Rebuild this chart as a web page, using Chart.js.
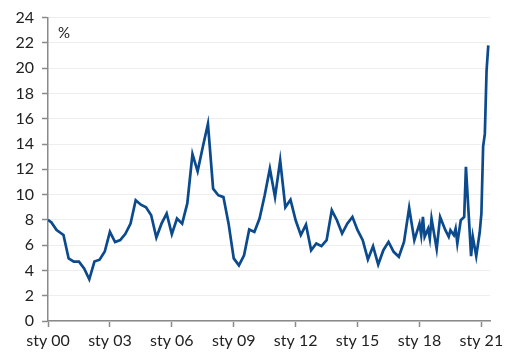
<!DOCTYPE html>
<html>
<head>
<meta charset="utf-8">
<script src="https://cdn.jsdelivr.net/npm/chart.js@4"></script>
<style>
  html, body { margin: 0; padding: 0; background: #fff; }
  #wrap { width: 514px; height: 361px; }
</style>
</head>
<body>
<div id="wrap"><canvas id="chart"></canvas></div>
<script>
// months counted from January 2000
const months = [0, 2, 5, 9, 12, 15, 18, 21, 24, 27, 30, 33, 36, 39, 42, 45, 48, 51, 54, 57,
  60, 63, 66, 69, 72, 75, 78, 81, 84, 87, 90, 93, 96, 99, 102, 105, 108, 111, 114, 117,
  120, 123, 126, 129, 132, 135, 138, 141, 144, 147, 150, 153, 156, 159, 162, 165, 168, 171, 174, 177,
  180, 183, 186, 189, 192, 195, 198, 201, 204, 207, 210, 213, 216, 217, 218, 219, 221, 222, 223, 226,
  228, 231, 233, 234, 236, 237, 238, 240, 242, 243, 246, 247, 249, 251, 252, 253, 254, 255, 256];
const values = [8.0, 7.8, 7.2, 6.8, 4.95, 4.7, 4.7, 4.15, 3.3, 4.7, 4.85, 5.5, 7.05, 6.25, 6.4, 6.9, 7.7, 9.55, 9.2, 9.0,
  8.37, 6.6, 7.7, 8.5, 6.87, 8.1, 7.7, 9.3, 13.2, 11.84, 13.76, 15.6, 10.47, 9.95, 9.8, 7.7, 4.95, 4.4, 5.2, 7.24,
  7.05, 8.1, 9.95, 12.05, 9.8, 12.7, 9.0, 9.6, 7.97, 6.8, 7.63, 5.6, 6.13, 5.92, 6.39, 8.76, 7.97, 6.92, 7.7, 8.23,
  7.18, 6.39, 4.87, 5.92, 4.47, 5.6, 6.26, 5.47, 5.08, 6.26, 8.95, 6.4, 7.7, 6.79, 8.23, 6.66, 7.3, 6.53, 8.1, 5.7,
  8.23, 7.2, 6.66, 7.18, 6.79, 7.3, 6.13, 7.97, 8.23, 12.2, 5.13, 6.66, 5.13, 7.0, 8.5, 13.8, 14.8, 19.8, 21.8];

const tickMonths = [0, 36, 72, 108, 144, 180, 216, 252];
const tickLabels = ["sty 00", "sty 03", "sty 06", "sty 09", "sty 12", "sty 15", "sty 18", "sty 21"];

const points = months.map((m, i) => ({ x: m, y: values[i] }));

// "%" label in top-left corner of the plot
const unitLabel = {
  id: "unitLabel",
  afterDraw(chart) {
    const c = chart.ctx;
    const a = chart.chartArea;
    c.save();
    c.fillStyle = "#222";
    c.font = "15px Lato";
    c.textBaseline = "middle";
    c.fillText("%", a.left + 10, a.top + 16);
    c.restore();
  }
};

const ctx = document.getElementById("chart").getContext("2d");
new Chart(ctx, {
  type: "line",
  data: {
    datasets: [{
      data: points,
      borderColor: "#0b4a8c",
      borderWidth: 2.7,
      pointRadius: 0,
      tension: 0,
      fill: false
    }]
  },
  options: {
    responsive: true,
    maintainAspectRatio: false,
    animation: false,
    layout: { padding: { top: 17, right: 24, left: 0, bottom: 0 } },
    plugins: {
      legend: { display: false },
      tooltip: { enabled: false }
    },
    scales: {
      x: {
        type: "linear",
        min: 0,
        max: 257,
        afterBuildTicks: (axis) => { axis.ticks = tickMonths.map(v => ({ value: v })); },
        afterFit: (axis) => { axis.height = 40; },
        ticks: {
          autoSkip: false,
          maxRotation: 0,
          padding: 4,
          color: "#222",
          font: { family: "Lato", size: 16 },
          callback: (v) => tickLabels[tickMonths.indexOf(v)]
        },
        grid: { drawOnChartArea: false, tickLength: 6, tickColor: "#8a8a8a", tickWidth: 1.5 },
        border: { color: "#8a8a8a", width: 1.5 }
      },
      y: {
        min: 0,
        max: 24,
        afterFit: (axis) => { axis.width = 48; },
        ticks: {
          stepSize: 2,
          padding: 8,
          color: "#222",
          font: { family: "Lato", size: 16 }
        },
        grid: { color: "#eeeeee", lineWidth: 1, tickLength: 6, tickColor: "#8a8a8a", tickWidth: 1.5 },
        border: { color: "#8a8a8a", width: 1.5 }
      }
    }
  },
  plugins: [unitLabel]
});
</script>
</body>
</html>
